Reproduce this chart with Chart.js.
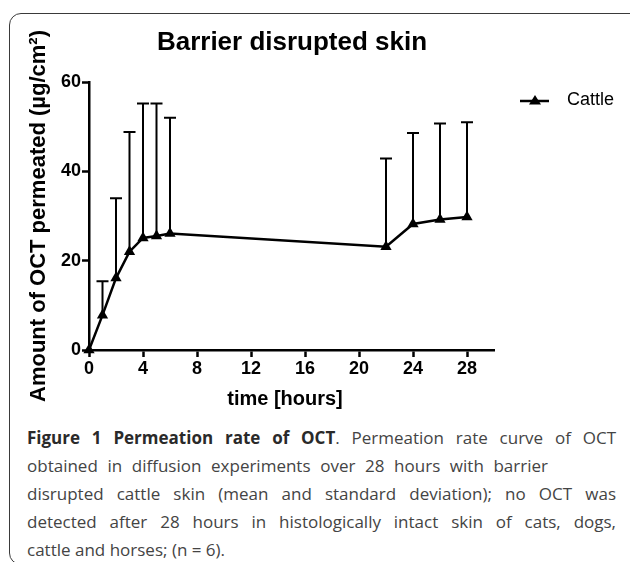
<!DOCTYPE html>
<html>
<head>
<meta charset="utf-8">
<script src="https://cdn.jsdelivr.net/npm/chart.js@4"></script>
<style>
  html, body { margin: 0; padding: 0; background: #fff; overflow: hidden; }
  #wrap { position: relative; width: 630px; height: 562px; overflow: hidden; }
  #frame {
    position: absolute; left: 9px; top: 13px; width: 640px; height: 552px;
    border: 1.5px solid #3a3a3a; border-radius: 12px; box-sizing: border-box;
  }
  #plot { position: absolute; left: 0; top: 0; }
  #caption {
    position: absolute; left: 27px; top: 424px;
    font-family: "Open Sans", sans-serif; font-size: 17px; line-height: 28px;
    color: #444; white-space: nowrap;
  }
  #caption b { color: #2a2a2a; }
  #caption .ln { display: block; white-space: normal; text-align: justify; text-align-last: justify; }
  #caption .full { width: 589px; }
  #caption .mid { width: 521px; }
  #caption .last { display: block; }
</style>
</head>
<body>
<div id="wrap">
  <div id="frame"></div>
  <canvas id="plot" width="630" height="420"></canvas>
  <div id="caption">
    <span class="ln full"><b>Figure 1 Permeation rate of OCT</b>. Permeation rate curve of OCT</span>
    <span class="ln mid">obtained in diffusion experiments over 28 hours with barrier</span>
    <span class="ln full">disrupted cattle skin (mean and standard deviation); no OCT was</span>
    <span class="ln full">detected after 28 hours in histologically intact skin of cats, dogs,</span>
    <span class="last">cattle and horses; (n = 6).</span>
  </div>
</div>
<script>
"use strict";

const timeHours = [0, 1, 2, 3, 4, 5, 6, 22, 24, 26, 28];
const cattleMean = [0, 7.8, 16.1, 22, 25.1, 25.5, 26.1, 23.1, 28.2, 29.2, 29.8];
const cattleSD = [0, 7.6, 17.9, 26.8, 30.1, 29.7, 25.9, 19.8, 20.4, 21.5, 21.2];
const xTicks = [0, 4, 8, 12, 16, 20, 24, 28];
const yTicks = [0, 20, 40, 60];

const FONT = "'Liberation Sans', Arial, sans-serif";

// upward-only error bars with a cap, like the original plot
const errorBars = {
  id: "errorBars",
  beforeDatasetsDraw(chart) {
    const { ctx, scales: { x, y } } = chart;
    ctx.save();
    ctx.strokeStyle = "#000";
    ctx.lineWidth = 2;
    timeHours.forEach((t, i) => {
      if (!cattleSD[i]) return;
      const px = x.getPixelForValue(t);
      const y0 = y.getPixelForValue(cattleMean[i]);
      const y1 = y.getPixelForValue(cattleMean[i] + cattleSD[i]);
      ctx.beginPath();
      ctx.moveTo(px, y0);
      ctx.lineTo(px, y1);
      ctx.moveTo(px - 6, y1);
      ctx.lineTo(px + 6, y1);
      ctx.stroke();
    });
    ctx.restore();
  },
};

// title, x axis title and legend drawn on the canvas
const decorations = {
  id: "decorations",
  afterDraw(chart) {
    const { ctx } = chart;
    ctx.save();
    ctx.fillStyle = "#000";
    ctx.textBaseline = "middle";
    ctx.textAlign = "center";
    ctx.font = "bold 26px " + FONT;
    ctx.fillText("Barrier disrupted skin", 292, 43);
    ctx.font = "bold 20px " + FONT;
    ctx.fillText("time [hours]", 285, 399);

    // legend
    ctx.strokeStyle = "#000";
    ctx.lineWidth = 2.5;
    ctx.beginPath();
    ctx.moveTo(520, 101);
    ctx.lineTo(549, 101);
    ctx.stroke();
    ctx.beginPath();
    ctx.moveTo(535, 95);
    ctx.lineTo(541, 104.5);
    ctx.lineTo(529, 104.5);
    ctx.closePath();
    ctx.fill();
    ctx.textAlign = "left";
    ctx.font = "18px " + FONT;
    ctx.fillText("Cattle", 567, 100);
    ctx.restore();
  },
};

new Chart(document.getElementById("plot"), {
  type: "line",
  data: {
    datasets: [{
      label: "Cattle",
      data: timeHours.map((t, i) => ({ x: t, y: cattleMean[i] })),
      borderColor: "#000",
      backgroundColor: "#000",
      borderWidth: 2.5,
      pointStyle: "triangle",
      pointRadius: 6.5,
      pointBorderWidth: 0,
      tension: 0,
      clip: false,
    }],
  },
  options: {
    responsive: false,
    animation: false,
    layout: { padding: { left: 26, right: 136, top: 82, bottom: 0 } },
    plugins: {
      legend: { display: false },
      tooltip: { enabled: false },
    },
    scales: {
      x: {
        type: "linear",
        min: 0,
        max: 30,
        afterBuildTicks: (s) => { s.ticks = xTicks.map((v) => ({ value: v })); },
        afterFit: (s) => { s.height = 70; },
        border: { color: "#000", width: 2.5 },
        grid: { display: true, drawOnChartArea: false, drawTicks: true, tickLength: 7, tickColor: "#000", tickWidth: 2.5 },
        ticks: { color: "#000", padding: 1, font: { family: FONT, size: 18, weight: "bold" }, maxRotation: 0 },
        title: { display: false },
      },
      y: {
        min: 0,
        max: 60,
        afterBuildTicks: (s) => { s.ticks = yTicks.map((v) => ({ value: v })); },
        afterFit: (s) => { s.width = 63; },
        border: { color: "#000", width: 2.5 },
        grid: { display: true, drawOnChartArea: false, drawTicks: true, tickLength: 7, tickColor: "#000", tickWidth: 2.5 },
        ticks: { color: "#000", padding: 1, font: { family: FONT, size: 18, weight: "bold" } },
        title: {
          display: true, text: "Amount of OCT permeated (µg/cm²)", color: "#000",
          font: { family: FONT, size: 22, weight: "bold" },
          padding: { top: 0, bottom: 0 },
        },
      },
    },
  },
  plugins: [errorBars, decorations],
});
</script>
</body>
</html>
